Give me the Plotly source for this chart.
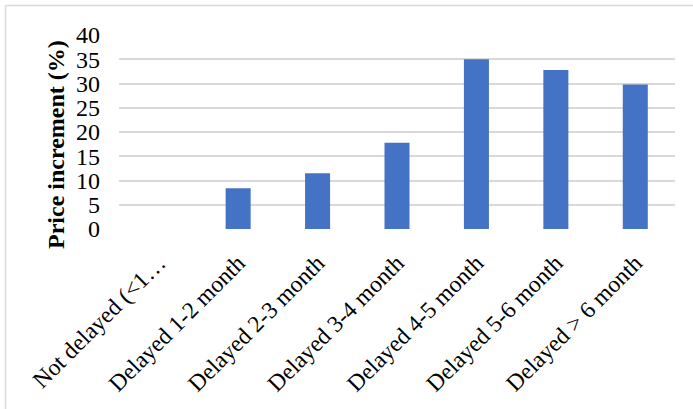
import plotly.graph_objects as go

categories = ["Not delayed (<1…", "Delayed 1-2 month", "Delayed 2-3 month",
              "Delayed 3-4 month", "Delayed 4-5 month", "Delayed 5-6 month",
              "Delayed > 6 month"]
values = [0, 8.4, 11.5, 17.8, 35.0, 32.8, 29.8]
y_ticks = [0, 5, 10, 15, 20, 25, 30, 35, 40]
y_title = "Price increment (%)"

W, H = 693, 409
L, R, T, B = 119, 18, 35, 180
pw = W - L - R
ph = H - T - B

FONT = "Liberation Serif, Times New Roman, serif"

fig = go.Figure(go.Bar(x=categories, y=values, marker_color="#4472C4",
                       marker_line_width=0))

fig.update_layout(
    width=W, height=H,
    margin=dict(l=L, r=R, t=T, b=B, pad=0),
    paper_bgcolor="white", plot_bgcolor="white",
    bargap=0.685,
    showlegend=False,
    font=dict(family=FONT, size=24, color="black"),
    xaxis=dict(tickangle=-45, showgrid=False, zeroline=False, showline=False,
               ticks="outside", ticklen=10, tickcolor="rgba(0,0,0,0)",
               tickfont=dict(family=FONT, size=23.5, color="black"),
               automargin=False),
    yaxis=dict(range=[0, 40], tickvals=y_ticks, showgrid=True,
               gridcolor="#d9d9d9", gridwidth=2, zeroline=False,
               showline=False, ticks="", ticklabelstandoff=18,
               tickfont=dict(family=FONT, size=24, color="black"),
               automargin=False),
    annotations=[dict(text="<b>" + y_title + "</b>", textangle=-90,
                      xref="paper", yref="paper",
                      x=(56 - L) / pw, y=(T + ph - 145) / ph,
                      xanchor="center", yanchor="middle", showarrow=False,
                      font=dict(family=FONT, size=24, color="black"))],
    shapes=[
        dict(type="line", xref="paper", yref="paper",
             x0=(5.5 - L) / pw, x1=(5.5 - L) / pw,
             y0=(T + ph - 5.5) / ph, y1=(T + ph - 420) / ph,
             line=dict(color="#d9d9d9", width=1.5)),
        dict(type="line", xref="paper", yref="paper",
             x0=(5.5 - L) / pw, x1=(700 - L) / pw,
             y0=(T + ph - 5.5) / ph, y1=(T + ph - 5.5) / ph,
             line=dict(color="#d9d9d9", width=1.5)),
    ],
)

fig.write_html("out.html")
